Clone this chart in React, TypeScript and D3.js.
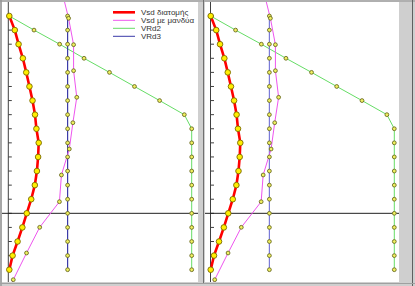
import React from "react";
import * as d3 from "d3";

// ---- data ----
const sectionPos = [0, 1, 2, 3, 4, 5, 6, 7, 8, 9, 10, 11, 12, 13, 14, 15, 16, 17, 18];
const vsdSection = [0, 5.5, 9.3, 13.6, 17, 20.2, 23.3, 25.8, 27.2, 29.5, 28.9, 27.7, 25.6, 22, 17.5, 13.1, 8.3, 3.3, 0];
const vrd3 = [58.5, 58.5, 58.5, 58.5, 58.5, 58.5, 58.5, 58.5, 58.5, 58.5, 58.5, 58.5, 58.5, 58.5, 58.5, 58.5, 58.5, 58.5, 58.5];
const vrd2 = [0, 24.8, 50.5, 75, 100.5, 125.6, 150.8, 175.6, 183, 183, 183, 183, 183, 183, 183, 183, 183, 183, 183];
const jacketPos = [-1.69, 0.163, 2.036, 3.881, 5.768, 7.571, 9.437, 11.281, 13.176, 14.992, 16.815, 18.71, 20.56];
const vsdJacket = [53, 59.5, 64.5, 64.5, 67.7, 63.8, 60.2, 52.3, 50.3, 30.5, 17.3, 4, -9];
const refLevel = 14;
const legendLabels = ["Vsd διατομής", "Vsd με μανδύα", "VRd2", "VRd3"];

const W = 415;
const H = 286;

const panels = [
  { x0: 9.3, x1: 191.7, axisX: 8.3, clip: { x: 2, y: 2, w: 196, h: 280 }, blue: "#3a3aa8", legend: true },
  { x0: 210.7, x1: 394.3, axisX: 210.5, clip: { x: 205, y: 2, w: 194, h: 280 }, blue: "#7a7ad8", legend: false },
];

const yScale = d3.scaleLinear().domain([0, 18]).range([16, 269.7]);

function Marker({ cx, cy, big }: { cx: number; cy: number; big?: boolean }) {
  return (
    <circle
      cx={cx}
      cy={cy}
      r={big ? 2.8 : 1.9}
      fill={big ? "#ffee00" : "#f0f060"}
      stroke={big ? "#7a6a00" : "#6a6a20"}
      strokeWidth={big ? 0.9 : 0.9}
    />
  );
}

function Panel({ p, idx }: { p: (typeof panels)[number]; idx: number }) {
  const x = d3.scaleLinear().domain([0, 183]).range([p.x0, p.x1]);
  const secPts: [number, number][][] = [vsdSection, vrd3, vrd2].map((s) =>
    s.map((v, i) => [x(v), yScale(sectionPos[i])] as [number, number])
  );
  const jacketPts = vsdJacket.map((v, i) => [x(v), yScale(jacketPos[i])] as [number, number]);
  const line = d3.line<[number, number]>();
  const c = p.clip;
  const clipId = `clip${idx}`;
  return (
    <g>
      <rect x={c.x} y={c.y} width={c.w} height={c.h} fill="#ffffff" />
      <clipPath id={clipId}>
        <rect x={c.x} y={c.y} width={c.w} height={c.h} />
      </clipPath>
      <g clipPath={`url(#${clipId})`}>
        {/* axis */}
        <line x1={p.axisX} x2={p.axisX} y1={c.y} y2={c.y + c.h} stroke="#404040" strokeWidth={1} />
        {sectionPos.map((s) => (
          <line key={s} x1={p.axisX} x2={p.axisX + 3.5} y1={yScale(s)} y2={yScale(s)} stroke="#404040" strokeWidth={1} />
        ))}
        {/* reference horizontal line */}
        <line x1={c.x} x2={c.x + c.w} y1={yScale(refLevel)} y2={yScale(refLevel)} stroke="#202020" strokeWidth={1} />
        {/* VRd2 */}
        <path d={line(secPts[2]) || ""} fill="none" stroke="#66dd66" strokeWidth={1} />
        {/* VRd3 */}
        <path d={line(secPts[1]) || ""} fill="none" stroke={p.blue} strokeWidth={1.2} />
        {/* jacket */}
        <path d={line(jacketPts) || ""} fill="none" stroke="#ee55ee" strokeWidth={1} />
        {/* section */}
        <path d={line(secPts[0]) || ""} fill="none" stroke="#ff0000" strokeWidth={2.6} />
        {secPts[2].map((pt, i) => (
          <Marker key={"g" + i} cx={pt[0]} cy={pt[1]} />
        ))}
        {secPts[1].map((pt, i) => (
          <Marker key={"b" + i} cx={pt[0]} cy={pt[1]} />
        ))}
        {jacketPts.map((pt, i) => (
          <Marker key={"m" + i} cx={pt[0]} cy={pt[1]} />
        ))}
        {secPts[0].map((pt, i) => (
          <Marker key={"r" + i} cx={pt[0]} cy={pt[1]} big />
        ))}
      </g>
      {p.legend && (
        <g fontFamily="Liberation Sans, Arial, sans-serif" fontSize={8} fill="#333">
          {legendLabels.map((lab, i) => {
            const ly = 12.3 + i * 8;
            const col = ["#ff0000", "#ee55ee", "#66dd66", "#3a3aa8"][i];
            return (
              <g key={lab}>
                <line x1={113} x2={135} y1={ly} y2={ly} stroke={col} strokeWidth={i === 0 ? 2.6 : 1} />
                <text x={141} y={ly + 2.8}>{lab}</text>
              </g>
            );
          })}
        </g>
      )}
    </g>
  );
}

export default function App() {
  return (
    <svg width={W} height={H} style={{ position: "absolute", left: 0, top: 0 }}>
      <rect x={0} y={0} width={W} height={H} fill="#cfcfcf" />
      <line x1={1} x2={1} y1={0} y2={H} stroke="#808080" />
      <line x1={0} x2={W} y1={1} y2={1} stroke="#909090" />
      <line x1={203.5} x2={203.5} y1={0} y2={283} stroke="#707070" />
      <line x1={412.5} x2={412.5} y1={0} y2={H} stroke="#606060" />
      <line x1={0} x2={W} y1={283.5} y2={283.5} stroke="#a0a0a0" />
      {panels.map((p, i) => (
        <Panel key={i} p={p} idx={i} />
      ))}
    </svg>
  );
}
